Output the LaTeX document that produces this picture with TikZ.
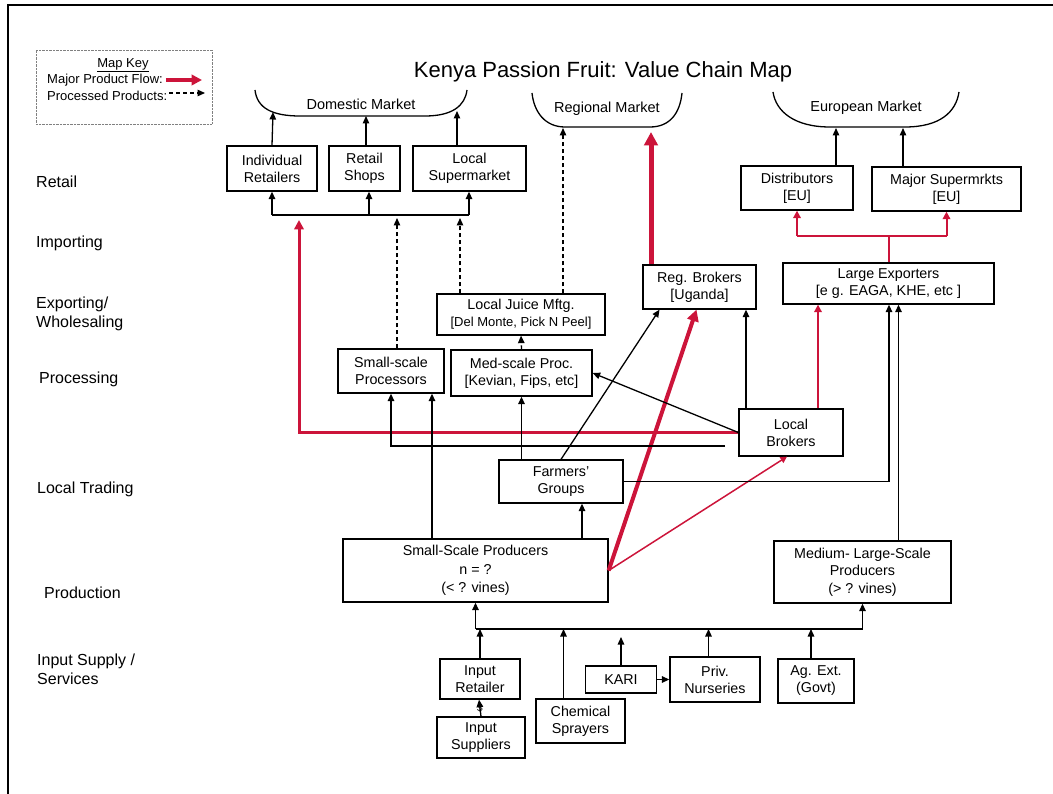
\documentclass[tikz,border=0pt]{standalone}
\usepackage{fontspec}
\setmainfont{Liberation Sans}
\usetikzlibrary{arrows.meta}
\definecolor{flowred}{RGB}{204,20,58}

\begin{document}
\begin{tikzpicture}[x=1pt, y=-1pt,
	box/.style={draw, line width=1.3pt, align=center, inner sep=0pt, font=\fontsize{14.3}{17}\selectfont},
	stage/.style={anchor=west, align=left, inner sep=0pt, font=\fontsize{16}{19}\selectfont},
	keytxt/.style={anchor=west, inner sep=0pt, font=\fontsize{13}{15}\selectfont},
	arr/.style={-{Triangle[length=7.5pt,width=6.5pt]}, line width=1.3pt},
	proc/.style={arr, dash pattern=on 4pt off 3pt},
	major/.style={draw=flowred, -{Triangle[length=3.5pt 2,width=3.5pt 2]}},
	]
	\useasboundingbox (0,0) rectangle (1053,794);
	\draw[line width=2.5pt] (8,5) rectangle (1080,820);
	\node[font=\fontsize{22}{26}\selectfont] (title) at (603,72) {Kenya Passion Fruit: Value Chain Map};

	% map key
	\node[draw=gray, densely dotted, minimum width=176pt, minimum height=74pt] (key) at (124,87) {};
	\node[font=\fontsize{13}{15}\selectfont, inner sep=0pt] (keyt) at (123,65) {\underline{Map Key}};
	\node[keytxt] (kmaj) at (47,80) {Major Product Flow:};
	\node[keytxt] (kproc) at (47,96) {Processed Products:};
	\coordinate (kmajend) at (202,80);
	\coordinate (kprocend) at (205,93);
	\draw[major, line width=3.5pt] ([xshift=3pt]kmaj.east) -- (kmajend);
	\draw[proc] ([xshift=2pt]kproc.east |- kprocend) -- (kprocend);

	% stages
	\node[stage] (lretail) at (36,182) {Retail};
	\node[stage] (limport) at (36,243) {Importing};
	\node[stage] (lexport) at (36,314) {Exporting/\\Wholesaling};
	\node[stage] (lproc) at (39,379) {Processing};
	\node[stage] (ltrade) at (37,489) {Local Trading};
	\node[stage] (lprod) at (44,593) {Production};
	\node[stage] (linput) at (37,669) {Input Supply /\\Services};

	% markets
	\draw[line width=1.3pt] (255,90) .. controls (257,108) and (272,116) .. (300,116) -- (425,116) .. controls (452,116) and (465,106) .. (467,90);
	\draw[line width=1.3pt] (532,93) .. controls (534,112) and (545,127) .. (565,127) -- (650,127) .. controls (670,127) and (680,113) .. (682,93);
	\draw[line width=1.3pt] (773,92) .. controls (776,112) and (795,127) .. (830,127) -- (905,127) .. controls (940,127) and (956,112) .. (959,92);
	\node[font=\fontsize{14.5}{17}\selectfont] (dm) at (361,104) {Domestic Market};
	\node[font=\fontsize{14.5}{17}\selectfont] (rm) at (607,109) {Regional Market};
	\node[font=\fontsize{14.5}{17}\selectfont] (em) at (866,108) {European Market};
	\coordinate (dm1) at (273,112);
	\coordinate (dm2) at (366,116);
	\coordinate (dm3) at (457,111);
	\coordinate (rm1) at (651,128);
	\coordinate (rm2) at (563,128);
	\coordinate (em1) at (836,128);
	\coordinate (em2) at (903,128);

	% boxes
	\node[box, minimum width=90pt, minimum height=45pt] (ir) at (272,168.5) {Individual\\Retailers};
	\node[box, minimum width=71pt, minimum height=45pt] (rs) at (364.5,168.5) {Retail\\Shops};
	\node[box, minimum width=113pt, minimum height=45pt] (ls) at (469.5,168.5) {Local\\Supermarket};
	\node[box, minimum width=112pt, minimum height=44pt] (dist) at (797,188) {Distributors\\{[EU]}};
	\node[box, minimum width=149pt, minimum height=44pt] (msup) at (946.5,189) {Major Supermrkts\\{[EU]}};
	\node[box, minimum width=211pt, minimum height=41pt] (lex) at (888.5,283.5) {Large Exporters\\{[e g. EAGA, KHE, etc ]}};
	\node[box, minimum width=113pt, minimum height=44pt] (rb) at (699.5,287) {Reg. Brokers\\{[Uganda]}};
	\node[box, minimum width=168pt, minimum height=41pt] (lj) at (521,314.5) {Local Juice Mftg.\\{\fontsize{13}{15}\selectfont [Del Monte, Pick N Peel]}};
	\node[box, minimum width=106pt, minimum height=44pt] (ssp) at (391,371) {Small-scale\\Processors};
	\node[box, minimum width=141pt, minimum height=46pt] (msp) at (521.5,373) {Med-scale Proc.\\{[Kevian, Fips, etc]}};
	\node[box, minimum width=104pt, minimum height=47pt] (lb) at (791,432.5) {Local\\Brokers};
	\node[box, minimum width=124pt, minimum height=43pt] (fg) at (561,481.5) {Farmers'\\Groups};
	\node[box, minimum width=265pt, minimum height=63pt, font=\fontsize{14.3}{18.5}\selectfont] (smallprod) at (475.5,570.5) {Small-Scale Producers\\n = ?\\(< ? vines)};
	\node[box, minimum width=177pt, minimum height=62pt, font=\fontsize{14.3}{17.5}\selectfont] (medprod) at (862.5,572) {Medium- Large-Scale\\Producers\\(> ? vines)};
	\node[box, minimum width=80pt, minimum height=40pt] (iret) at (480,679) {Input\\Retailer};
	\node[box, minimum width=88pt, minimum height=41pt] (isup) at (481,737.5) {Input\\Suppliers};
	\node[box, minimum width=89pt, minimum height=44pt] (chem) at (580.5,721) {Chemical\\Sprayers};
	\node[box, minimum width=71pt, minimum height=27pt] (kari) at (621,679.5) {KARI};
	\node[box, minimum width=90pt, minimum height=45pt] (priv) at (715,679.5) {Priv.\\Nurseries};
	\node[box, minimum width=76pt, minimum height=44pt] (agext) at (816,681) {Ag. Ext.\\(Govt)};

	% retail to markets
	\draw[arr] (ir.north) -- (dm1);
	\draw[arr] ([xshift=1.5pt]rs.north) -- (dm2);
	\draw[arr] ([xshift=-12.5pt]ls.north) -- (dm3);
	\coordinate (rbus) at (0,215);
	\draw[line width=1.3pt] (ir.south |- rbus) -- ([xshift=-0.5pt]ls.south |- rbus);
	\draw[arr] (ir.south |- rbus) -- (ir.south);
	\draw[arr] ([xshift=4.5pt]rs.south |- rbus) -- ([xshift=4.5pt]rs.south);
	\draw[arr] ([xshift=-0.5pt]ls.south |- rbus) -- ([xshift=-0.5pt]ls.south);
	\draw[arr] ([xshift=39pt]dist.north) -- (em1);
	\draw[arr] ([xshift=-43.5pt]msup.north) -- (em2);

	% processed products
	\coordinate (dtip) at (0,218);
	\draw[proc] ([xshift=6pt]ssp.north) -- ([xshift=6pt]ssp.north |- dtip);
	\draw[proc] ([xshift=-61pt]lj.north) -- ([xshift=-61pt]lj.north |- dtip);
	\draw[proc] ([xshift=42pt]lj.north) -- (rm2);
	\draw[proc] (msp.north) -- (lj.south);

	% major product flow
	\coordinate (rtip) at (299,220);
	\draw[major, line width=3pt] (lb.west) -| (rtip);
	\draw[major, line width=5pt, shorten >=4pt] ([xshift=-48.5pt]rb.north) -- (rm1);
	\draw[major, line width=4pt] (smallprod.east) -- ([xshift=-3pt]rb.south);
	\draw[major, line width=1.5pt] (smallprod.east) -- ([xshift=-4pt]lb.south);
	\draw[major, line width=2pt] ([xshift=27pt]lb.north) -- ([xshift=27pt]lb.north |- lex.south);
	\coordinate (ebus) at (0,236);
	\draw[flowred, line width=2pt] (lex.north) -- (lex.north |- ebus);
	\draw[flowred, line width=2pt] (dist.south |- ebus) -- (msup.south |- ebus);
	\draw[major, line width=2pt] (dist.south |- ebus) -- (dist.south);
	\draw[major, line width=2pt] (msup.south |- ebus) -- (msup.south);

	% local trading
	\coordinate (lbgap) at (725,446);
	\draw[arr] (lbgap) -| (ssp.south);
	\draw[arr] ([xshift=41pt]ssp.south |- smallprod.north) -- ([xshift=41pt]ssp.south);
	\draw[arr] (fg.north -| msp.south) -- (msp.south);
	\draw[arr] ([xshift=21pt]fg.south |- smallprod.north) -- ([xshift=21pt]fg.south);
	\draw[arr] (fg.north) -- ([xshift=-40pt]rb.south);
	\draw[arr] (lb.west) -- (msp.east);
	\draw[arr] ([xshift=-45pt]lb.north) -- ([xshift=-45pt]lb.north |- rb.south);
	\draw[arr] (fg.east) -| ([xshift=0.5pt]lex.south);
	\draw[arr] ([xshift=36pt]medprod.north) -- ([xshift=36pt]medprod.north |- lex.south);

	% inputs
	\coordinate (ibus) at (0,629);
	\draw[line width=1.3pt] (smallprod.south |- ibus) -- (medprod.south |- ibus);
	\draw[arr] (smallprod.south |- ibus) -- (smallprod.south);
	\draw[arr] (medprod.south |- ibus) -- (medprod.south);
	\draw[arr] (iret.north) -- (iret.north |- ibus);
	\draw[arr] (isup.north) -- node[inner sep=0pt, font=\fontsize{10}{12}\selectfont] {\$} ([xshift=-1pt]iret.south);
	\draw[arr] ([xshift=-17pt]chem.north) -- ([xshift=-17pt]chem.north |- ibus);
	\draw[arr, shorten >=8pt] (kari.north) -- (kari.north |- ibus);
	\draw[arr] (kari.east) -- (priv.west);
	\draw[arr] ([xshift=-6.5pt]priv.north) -- ([xshift=-6.5pt]priv.north |- ibus);
	\draw[arr] ([xshift=-5pt]agext.north) -- ([xshift=-5pt]agext.north |- ibus);
\end{tikzpicture}
\end{document}
